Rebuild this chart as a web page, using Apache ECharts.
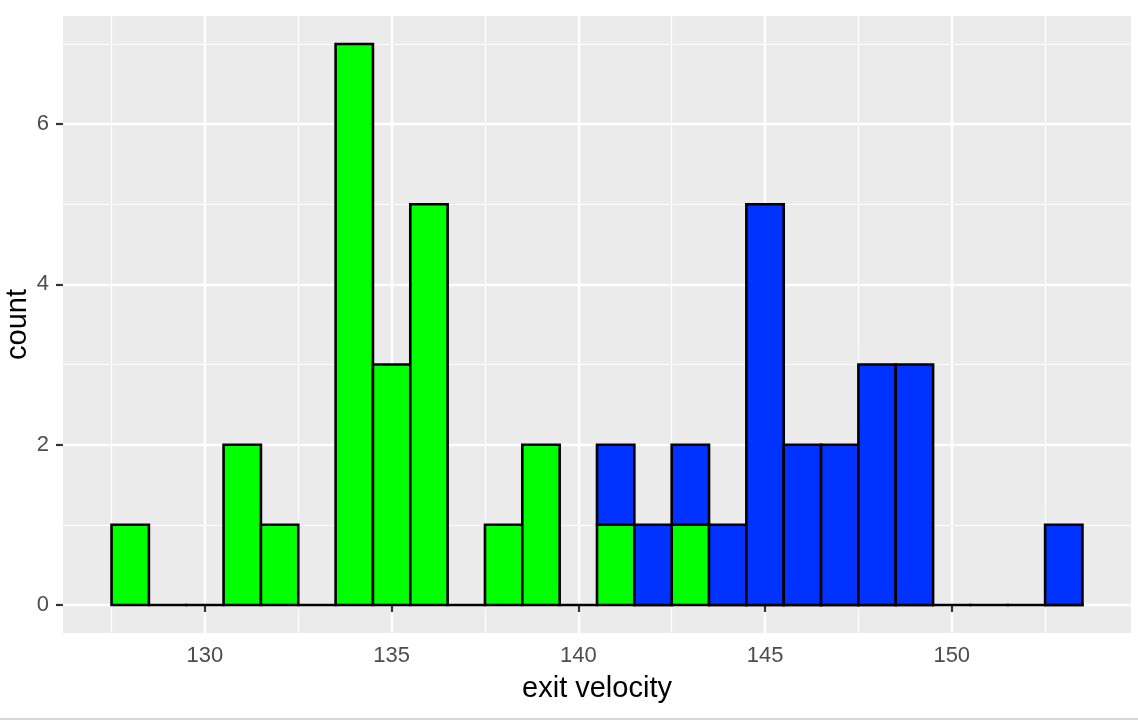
<!DOCTYPE html>
<html>
<head>
<meta charset="utf-8">
<script src="https://cdn.jsdelivr.net/npm/echarts@6/dist/echarts.min.js"></script>
<style>
  html, body { margin: 0; padding: 0; background: #fff; }
  #chart { width: 1138px; height: 720px; }
</style>
</head>
<body>
<div id="chart"></div>
<script>
// bin centres (width 1) and counts per group
const bins = [128, 129, 130, 131, 132, 133, 134, 135, 136, 137, 138, 139, 140,
              141, 142, 143, 144, 145, 146, 147, 148, 149, 150, 151, 152, 153];
const greenCounts = [1, 0, 0, 2, 1, 0, 7, 3, 5, 0, 1, 2, 0,
                     1, 0, 1, 0, 0, 0, 0, 0, 0, 0, 0, 0, 0];
const blueCounts  = [0, 0, 0, 0, 0, 0, 0, 0, 0, 0, 0, 0, 0,
                     1, 1, 1, 1, 5, 2, 2, 3, 3, 0, 0, 0, 1];
const xTicks = [130, 135, 140, 145, 150];
const xMinor = [127.5, 132.5, 137.5, 142.5, 147.5, 152.5];
const yTicks = [0, 2, 4, 6];
const yMinor = [1, 3, 5, 7];

const binWidth = 1;
const font = '"Liberation Sans", Arial, sans-serif';

var myChart = echarts.init(document.getElementById('chart'));

// ggplot-style 5% expansion
const xLo = bins[0] - binWidth / 2, xHi = bins[bins.length - 1] + binWidth / 2;
const xPad = (xHi - xLo) * 0.05;
const yMax = Math.max.apply(null, bins.map((b, i) => greenCounts[i] + blueCounts[i]));
const yPad = yMax * 0.05;

function barItem(color, skipZero) {
  return function (params, api) {
    const x = api.value(0), lo = api.value(1), hi = api.value(2);
    if (hi === lo) {
      if (skipZero) return null;
      const a = api.coord([x - binWidth / 2, lo]);
      const b = api.coord([x + binWidth / 2, lo]);
      return { type: 'line', shape: { x1: a[0], y1: a[1], x2: b[0], y2: b[1] },
               style: { stroke: '#000', lineWidth: 2.6, lineCap: 'square' } };
    }
    const p0 = api.coord([x - binWidth / 2, hi]);
    const p1 = api.coord([x + binWidth / 2, lo]);
    return {
      type: 'rect',
      shape: { x: p0[0], y: p0[1], width: p1[0] - p0[0], height: p1[1] - p0[1] },
      style: { fill: color, stroke: '#000', lineWidth: 2.6 }
    };
  };
}

const greenData = bins.map((b, i) => [b, 0, greenCounts[i]]);
const blueData = bins.map((b, i) => [b, greenCounts[i], greenCounts[i] + blueCounts[i]]);

var option = {
  animation: false,
  backgroundColor: '#fff',
  grid: { left: 63, right: 7, top: 16, bottom: 87, outerBoundsMode: 'none', containLabel: false,
          backgroundColor: '#EBEBEB', show: true, borderWidth: 0 },
  xAxis: [{
    type: 'value', min: xLo - xPad, max: xHi + xPad,
    name: 'exit velocity', nameLocation: 'middle', nameGap: 41, nameMoveOverlap: false,
    nameTextStyle: { color: '#000', fontSize: 29, fontFamily: font },
    axisLine: { show: false },
    axisTick: { show: true, length: 7, customValues: xTicks, lineStyle: { color: '#333', width: 2.2 } },
    axisLabel: { customValues: xTicks, color: '#4D4D4D', fontSize: 22, fontFamily: font, margin: 12 },
    splitLine: { show: true, lineStyle: { color: '#fff', width: 2.4 } }
  }, {
    type: 'value', min: xLo - xPad, max: xHi + xPad, position: 'bottom',
    axisLine: { show: false },
    axisTick: { show: false, customValues: xMinor },
    axisLabel: { show: false, customValues: xMinor },
    splitLine: { show: true, lineStyle: { color: '#fff', width: 1.2 } }
  }],
  yAxis: [{
    type: 'value', min: -yPad, max: yMax + yPad,
    name: 'count', nameLocation: 'middle', nameGap: 31, nameRotate: 90, nameMoveOverlap: false,
    nameTextStyle: { color: '#000', fontSize: 29, fontFamily: font },
    axisLine: { show: false },
    axisTick: { show: true, length: 7, customValues: yTicks, lineStyle: { color: '#333', width: 2.2 } },
    axisLabel: { customValues: yTicks, color: '#4D4D4D', fontSize: 22, fontFamily: font, margin: 14 },
    splitLine: { show: true, lineStyle: { color: '#fff', width: 2.4 } }
  }, {
    type: 'value', min: -yPad, max: yMax + yPad, position: 'left',
    axisLine: { show: false },
    axisTick: { show: false, customValues: yMinor },
    axisLabel: { show: false, customValues: yMinor },
    splitLine: { show: true, lineStyle: { color: '#fff', width: 1.2 } }
  }],
  series: [{
    type: 'custom', name: 'green', renderItem: barItem('#00FF00', false),
    encode: { x: 0, y: [1, 2] }, data: greenData
  }, {
    type: 'custom', name: 'blue', renderItem: barItem('#0033FF', true),
    encode: { x: 0, y: [1, 2] }, data: blueData
  }],
  graphic: [{
    type: 'rect', left: 0, bottom: 0, shape: { width: 1138, height: 2 },
    style: { fill: '#D3D7DB' }, silent: true
  }]
};

myChart.setOption(option);
</script>
</body>
</html>
